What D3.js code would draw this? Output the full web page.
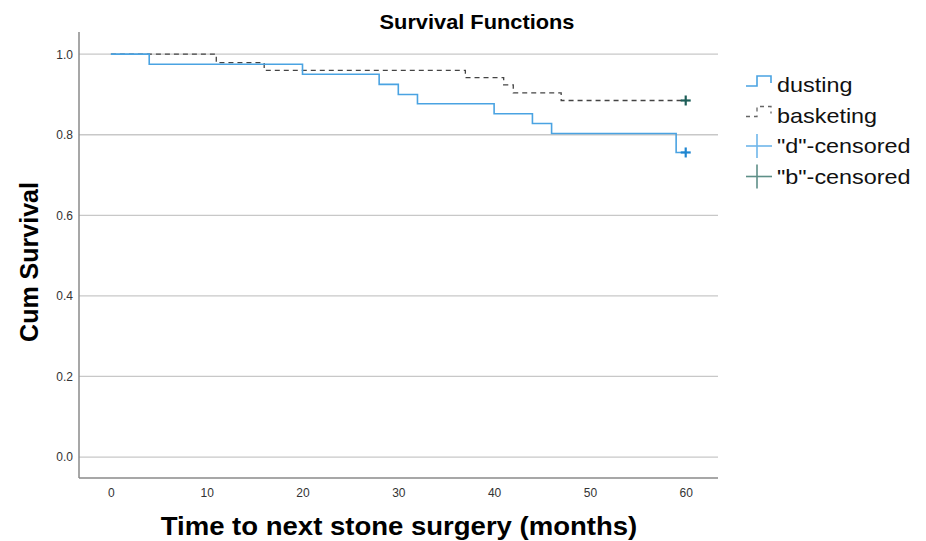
<!DOCTYPE html>
<html>
<head>
<meta charset="utf-8">
<script src="https://cdn.jsdelivr.net/npm/d3@7"></script>
<style>
  body { margin: 0; background: #fff; }
  text { font-family: Arial, "Liberation Sans", sans-serif; }
</style>
</head>
<body>
<div id="chart"></div>
<script>
// Kaplan-Meier step data
const dustingTimes = [0, 4, 20, 28, 30, 32, 40, 44, 46, 59, 60];
const dustingSurv = [1.0, 0.975, 0.95, 0.925, 0.9, 0.877, 0.852, 0.828, 0.803, 0.756, 0.756];
const basketingTimes = [0, 11, 16, 37, 41, 42, 47, 60];
const basketingSurv = [1.0, 0.979, 0.96, 0.942, 0.924, 0.904, 0.885, 0.885];
const censorPoints = [
    { group: "d", time: 60, surv: 0.756 },
    { group: "b", time: 60, surv: 0.885 }
];
const xTicks = [0, 10, 20, 30, 40, 50, 60];
const yTicks = [0.0, 0.2, 0.4, 0.6, 0.8, 1.0];
const legendLabels = ["dusting", "basketing", "\"d\"-censored", "\"b\"-censored"];

const width = 926, height = 541;
const plot = { left: 79, right: 718, top: 32, bottom: 478 };

const svg = d3.select("#chart")
    .append("svg")
    .attr("width", width)
    .attr("height", height);

const x = d3.scaleLinear()
    .domain([-3.33, 63.37])
    .range([plot.left, plot.right]);

const y = d3.scaleLinear()
    .domain([-0.052, 1.055])
    .range([plot.bottom, plot.top]);

const blue = "#4aa3e2";
const dashGray = "#444";

// gridlines
svg.append("g")
    .selectAll("line")
    .data(yTicks)
    .enter().append("line")
    .attr("x1", plot.left)
    .attr("x2", plot.right)
    .attr("y1", d => y(d))
    .attr("y2", d => y(d))
    .style("stroke", "#c8c8c8")
    .style("stroke-width", 1.3);

// axes
const yAxis = svg.append("g")
    .attr("transform", `translate(${plot.left},0)`)
    .call(d3.axisLeft(y).tickValues(yTicks).tickFormat(d3.format(".1f")).tickSize(0).tickPadding(6));
yAxis.select(".domain").attr("d", `M0,${plot.top}V${plot.bottom}`).style("stroke", "#8a8a8a").style("stroke-width", 1.5);
yAxis.selectAll("text").style("font-size", "12px").style("fill", "#333");

const xAxis = svg.append("g")
    .attr("transform", `translate(0,${plot.bottom})`)
    .call(d3.axisBottom(x).tickValues(xTicks).tickSize(0).tickPadding(10));
xAxis.select(".domain").attr("d", `M${plot.left},0H${plot.right}`).style("stroke", "#8a8a8a").style("stroke-width", 1.5);
xAxis.selectAll("text").style("font-size", "12px").style("fill", "#333");

// survival curves
const line = d3.line()
    .x(d => x(d[0]))
    .y(d => y(d[1]))
    .curve(d3.curveStepAfter);

svg.append("path")
    .datum(d3.zip(basketingTimes, basketingSurv))
    .attr("d", line)
    .style("fill", "none")
    .style("stroke", dashGray)
    .style("stroke-width", 1.3)
    .style("stroke-dasharray", "5,4");

svg.append("path")
    .datum(d3.zip(dustingTimes, dustingSurv))
    .attr("d", line)
    .style("fill", "none")
    .style("stroke", blue)
    .style("stroke-width", 1.6);

// censored markers
const censorColor = { d: "#1f86d0", b: "#1d5e58" };
const cross = svg.append("g")
    .selectAll("g")
    .data(censorPoints)
    .enter().append("g")
    .attr("transform", d => `translate(${x(d.time)},${y(d.surv)})`);
cross.append("line").attr("x1", -5).attr("x2", 5)
    .style("stroke", d => censorColor[d.group]).style("stroke-width", 2.2);
cross.append("line").attr("y1", -5).attr("y2", 5)
    .style("stroke", d => censorColor[d.group]).style("stroke-width", 2.2);

// title and axis labels (source font is a bit wider than Arial, so stretch horizontally)
svg.append("text")
    .attr("transform", "translate(477,29) scale(1.09,1)")
    .attr("text-anchor", "middle")
    .style("font-size", "20px")
    .style("font-weight", "bold")
    .text("Survival Functions");

svg.append("text")
    .attr("transform", "translate(38,262) rotate(-90)")
    .attr("text-anchor", "middle")
    .style("font-size", "25px")
    .style("font-weight", "bold")
    .text("Cum Survival");

svg.append("text")
    .attr("transform", "translate(399,535) scale(1.08,1)")
    .attr("text-anchor", "middle")
    .style("font-size", "25.5px")
    .style("font-weight", "bold")
    .text("Time to next stone surgery (months)");

// legend
const legend = svg.append("g")
    .attr("transform", "translate(746, 84)");

const items = legend.selectAll("g")
    .data(legendLabels)
    .enter().append("g")
    .attr("transform", (d, i) => `translate(0, ${i * 30.5})`);

items.append("text")
    .attr("transform", "translate(31,8) scale(1.17,1)")
    .style("font-size", "20px")
    .style("fill", "#111")
    .text(d => d);

items.filter((d, i) => i === 0).append("path")
    .attr("d", "M0,2H11V-8H25V-1")
    .style("fill", "none")
    .style("stroke", blue)
    .style("stroke-width", 1.6);

items.filter((d, i) => i === 1).append("path")
    .attr("d", "M0,2H11V-8H25V-1")
    .style("fill", "none")
    .style("stroke", "#666")
    .style("stroke-width", 1.3)
    .style("stroke-dasharray", "4,4");

items.filter((d, i) => i >= 2).each(function(d, i) {
    const c = i === 0 ? "#6fb6ea" : "#5e8f88";
    const g = d3.select(this);
    g.append("line").attr("x1", 0).attr("x2", 26).attr("y1", 1).attr("y2", 1)
        .style("stroke", c).style("stroke-width", 1.6);
    g.append("line").attr("x1", 11).attr("x2", 11).attr("y1", -11).attr("y2", 13)
        .style("stroke", c).style("stroke-width", 1.6);
});
</script>
</body>
</html>
